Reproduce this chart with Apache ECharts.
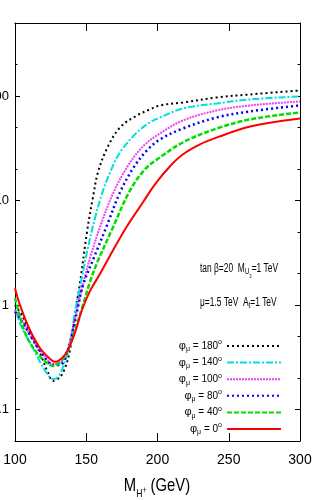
<!DOCTYPE html>
<html><head><meta charset="utf-8">
<script src="https://cdn.jsdelivr.net/npm/echarts@6/dist/echarts.min.js"></script>
<style>html,body{margin:0;padding:0;background:#fff}#c{width:316px;height:500px}</style>
</head><body><div id="c"></div><script>
// tick values
const xTicks = [100, 150, 200, 250, 300];
const yMajor = [0.1, 1, 10, 100];
const yMinor = [0.2, 0.5, 2, 5, 20, 50, 200];

// phi_mu = 180
const m180 = [100,105.6,110.5,117.5,123.2,126.7,131.6,135.1,138.6,142.1,145.6,150.5,154.7,158.2,164.6,173.7,185.6,194.7,201.8,217.9,241.8,264.9,300];
const v180 = [1.0,0.768,0.54,0.348,0.224,0.188,0.205,0.25,0.372,0.839,1.62,4.98,10.75,18.6,31.6,50.1,65.3,74.5,81.3,86.9,97.0,103.6,113.1];
// phi_mu = 140
const m140 = [100,105.6,112.6,119.6,126.7,130.2,133.7,138.6,142.1,145.6,150.5,156.1,161.1,166.7,173.7,185.6,194.7,201.8,217.9,241.8,264.9,300];
const v140 = [0.896,0.577,0.388,0.256,0.196,0.205,0.256,0.415,0.857,1.49,3.21,6.78,11.7,18.6,28.9,44.9,56.0,62.5,76.1,85.0,92.8,99.1];
// phi_mu = 100
const m100 = [100,105.6,112.6,119.6,126.7,131.6,136.5,140.7,144.2,148.4,152.6,159.6,168.8,178.6,189.8,201.8,217.9,241.8,264.9,300];
const v100 = [0.896,0.688,0.463,0.340,0.273,0.279,0.364,0.603,1.0,1.73,2.81,5.56,11.7,20.8,33.0,43.9,58.5,72.9,81.3,88.8];
// phi_mu = 80
const m80 = [100,105.6,112.6,119.6,126.7,131.6,136.5,140.7,144.2,147.7,156.1,164.6,173.7,182.8,192.6,201.8,217.9,241.8,264.9,300];
const v80 = [0.857,0.673,0.463,0.333,0.267,0.267,0.348,0.577,0.957,1.55,3.0,5.81,12.0,20.3,30.2,38.5,49.0,62.5,71.3,81.3];
// phi_mu = 40
const m40 = [100,103.5,108.4,115.4,122.5,126.7,133,137.2,142.1,147.7,152.6,157.5,168.8,180.7,191.2,201.8,217.9,241.8,264.9,300];
const v40 = [1.17,0.768,0.495,0.348,0.279,0.261,0.298,0.372,0.577,1.0,1.66,2.52,5.56,12.5,19.9,25.9,36.1,49.0,59.8,69.7];
// phi_mu = 0
const m0 = [100,103.5,110.5,117.5,124.6,128,133,137.2,142,147,152.6,159.6,168.8,178.6,189.8,198.2,208.8,217.9,229.8,241.8,265,300];
const v0 = [1.45,1.0,0.577,0.388,0.305,0.286,0.312,0.372,0.54,0.896,1.36,1.98,3.35,5.68,9.63,14.3,21.3,27.7,34.5,40.2,51.2,61.1];

const legendDeg = ['180', '140', '100', '80', '40', '0'];

const FONT = "'Liberation Sans','Arial',sans-serif";
const zip = (a, b) => a.map((x, i) => [x, b[i]]);

const defs = [
  {m:m180, v:v180, color:'#000000', type:[2,3], w:2},
  {m:m140, v:v140, color:'#00dede', type:[7,2,2,2], w:2},
  {m:m100, v:v100, color:'#f040f0', type:[2,1], w:2},
  {m:m80,  v:v80,  color:'#0000ff', type:[2,3], w:2.5},
  {m:m40,  v:v40,  color:'#00dd00', type:[5,2], w:2.5},
  {m:m0,   v:v0,   color:'#ff0000', type:'solid', w:2},
];

const series = defs.map((d, i) => ({
  name: 'phi' + legendDeg[i],
  type: 'line',
  data: zip(d.m, d.v),
  smooth: 0.35,
  symbol: 'none',
  xAxisIndex: 0, yAxisIndex: 0,
  lineStyle: {color: d.color, width: d.w, type: d.type},
  itemStyle: {color: d.color},
  z: 2
}));

const axisLineStyle = {show: true, lineStyle: {color: '#000', width: 1}};
const mkX = (pos, showLabel) => ({
  type: 'value', min: 100, max: 300, interval: 50, position: pos,
  axisLine: axisLineStyle,
  axisTick: {show: true, inside: true, length: 8, lineStyle: {color: '#000'}},
  axisLabel: {show: showLabel, margin: 12, fontFamily: FONT, fontSize: 14, color: '#000'},
  splitLine: {show: false}
});
const mkY = (pos, ticks, len, labels, line) => ({
  type: 'log', logBase: 10, min: 0.05, max: 500, position: pos,
  axisLine: line ? axisLineStyle : {show: false},
  axisTick: {show: true, inside: true, length: len, customValues: ticks, lineStyle: {color: '#000'}},
  axisLabel: labels ? {show: true, customValues: yMajor, margin: 6, fontFamily: FONT, fontSize: 13, color: '#000',
    formatter: v => (v < 1 ? '0.1' : String(Math.round(v)))} : {show: false},
  splitLine: {show: false}, minorTick: {show: false}
});

const legendRich = {
  ph: {fontFamily: FONT, fontSize: 11, color: '#000', verticalAlign: 'middle', lineHeight: 12},
  mu: {fontFamily: FONT, fontSize: 7, color: '#000', verticalAlign: 'middle', padding: [7, 0, 0, 0], lineHeight: 8},
  t: {fontFamily: FONT, fontSize: 10, color: '#000', verticalAlign: 'middle', lineHeight: 12},
  dg: {fontFamily: FONT, fontSize: 7, color: '#000', verticalAlign: 'middle', padding: [0, 0, 7, 0], lineHeight: 8}
};

const option = {
  animation: false,
  backgroundColor: '#fff',
  grid: {left: 15, right: 16, top: 23, bottom: 59, containLabel: false, outerBoundsMode: 'none'},
  xAxis: [mkX('bottom', true), mkX('top', false)],
  yAxis: [
    mkY('left', yMajor, 5, true, true),
    mkY('left', yMinor, 2.5, false, false),
    mkY('right', yMajor, 5, false, true),
    mkY('right', yMinor, 2.5, false, false)
  ],
  legend: {
    orient: 'vertical', right: 34, top: 339, align: 'right', padding: 0,
    itemWidth: 54, itemHeight: 10, itemGap: 2.6,
    itemStyle: {opacity: 0},
    data: legendDeg.map(d => 'phi' + d),
    formatter: n => '{ph|φ}{mu|μ}{t| = ' + n.slice(3) + '}{dg|o}',
    textStyle: {fontFamily: FONT, fontSize: 10, color: '#000', rich: legendRich},
    selectedMode: false
  },
  graphic: [
    {type: 'text', x: 157, y: 486, scaleX: 0.78, style: {
      text: '{m|M}{s|H}{p|+}{m| (GeV)}', align: 'center', verticalAlign: 'middle',
      rich: {
        m: {fontFamily: FONT, fontSize: 19, fill: '#000', verticalAlign: 'middle'},
        s: {fontFamily: FONT, fontSize: 11, fill: '#000', verticalAlign: 'middle', padding: [16, 0, 0, 0]},
        p: {fontFamily: FONT, fontSize: 9, fill: '#000', verticalAlign: 'middle', padding: [10, 0, 0, 0]}
      }}},
    {type: 'text', x: 200, y: 269, scaleX: 0.7, style: {
      text: '{t|tan β=20  M}{s|U}{ss|3}{t|=1 TeV}', align: 'left', verticalAlign: 'middle',
      rich: {
        t: {fontFamily: FONT, fontSize: 12, fill: '#000', verticalAlign: 'middle'},
        s: {fontFamily: FONT, fontSize: 9, fill: '#000', verticalAlign: 'middle', padding: [6, 0, 0, 0]},
        ss: {fontFamily: FONT, fontSize: 6, fill: '#000', verticalAlign: 'middle', padding: [14, 0, 0, 0]}
      }}},
    {type: 'text', x: 200, y: 303, scaleX: 0.7, style: {
      text: '{t|μ=1.5 TeV  A}{s|t}{t|=1 TeV}', align: 'left', verticalAlign: 'middle',
      rich: {
        t: {fontFamily: FONT, fontSize: 12, fill: '#000', verticalAlign: 'middle'},
        s: {fontFamily: FONT, fontSize: 9, fill: '#000', verticalAlign: 'middle', padding: [6, 0, 0, 0]}
      }}}
  ],
  series: series
};

const chart = echarts.init(document.getElementById('c'), null, {renderer: 'canvas'});
chart.setOption(option);
</script></body></html>
